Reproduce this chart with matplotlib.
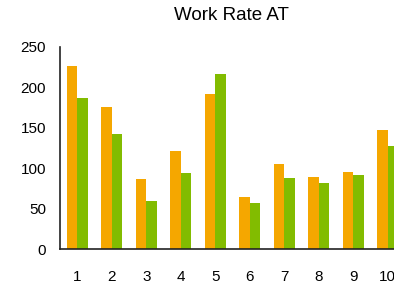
import matplotlib
matplotlib.use("Agg")
import matplotlib.pyplot as plt
import numpy as np

plt.rcParams["font.family"] = ["Liberation Sans", "DejaVu Sans"]

categories = ["1", "2", "3", "4", "5", "6", "7", "8", "9", "10"]
orange_vals = [226, 175, 87, 121, 192, 65, 105, 89, 95, 147]
green_vals = [187, 142, 60, 94, 216, 57, 88, 82, 92, 127]

ORANGE = "#f5a700"
GREEN = "#82bc00"

fig = plt.figure(figsize=(3.94, 2.85), dpi=100)
ax = fig.add_axes([60 / 394, 1 - 249.3 / 285, 345 / 394, 202.6 / 285])

x = np.arange(1, len(categories) + 1)
width = 0.3
ax.bar(x - width / 2, orange_vals, width=width, color=ORANGE)
ax.bar(x + width / 2, green_vals, width=width, color=GREEN)

ax.set_xlim(0.5, 10.5)
ax.set_ylim(0, 250)
ax.set_xticks(x)
ax.set_xticklabels(categories)
ax.set_yticks([0, 50, 100, 150, 200, 250])
ax.set_yticks([0, 250], minor=True)
ax.tick_params(axis="x", length=0, pad=15, labelsize=11)
ax.tick_params(axis="y", which="major", length=0, pad=10, labelsize=11)
ax.tick_params(axis="y", which="minor", length=6, width=1.2, color="#222222")

for side in ["top", "right"]:
    ax.spines[side].set_visible(False)
for side in ["left", "bottom"]:
    ax.spines[side].set_linewidth(1.2)
    ax.spines[side].set_color("#222222")
ax.set_axisbelow(False)

# title sits over the visible part of the plot, not the clipped axes
fig.text(231 / 394, 1 - 16 / 285, "Work Rate AT", ha="center", va="center", fontsize=13.5)

fig.savefig("out.png", dpi=100)
